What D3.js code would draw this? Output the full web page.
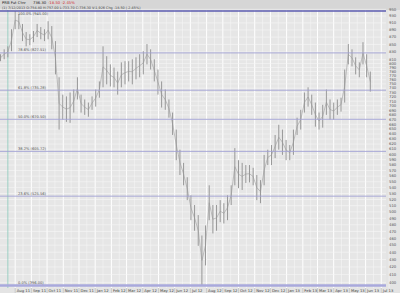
<!DOCTYPE html>
<html>
<head>
<meta charset="utf-8">
<script src="https://cdnjs.cloudflare.com/ajax/libs/d3/7.8.5/d3.min.js"></script>
<style>
body{margin:0;background:#fff;}
svg{display:block;font-family:"DejaVu Sans",sans-serif;}
</style>
</head>
<body>
<svg id="chart" width="400" height="293"></svg>
<script>
// header values
var symbolName = "PRB Fut Ctnr";
var lastClose = "736.30";
var lastChange = "-18.50  -2.45%";
var ohlcLine = "(1) 7/12/2013 O:754.80 H:757.00 L:733.70 C:736.30 V:1,926 Chg -18.50 (-2.45%)";

// weekly ranges, first week starting 2011-07-04
var firstWeek = "2011-07-04";
var weeklyHigh = [824,837,845,892,945,936,907,884,878,887,907,898,892,915,901,859,766,725,721,730,
  737,766,725,714,707,721,737,756,845,819,798,790,780,803,806,806,811,816,824,832,
  851,837,811,785,756,737,714,685,649,609,584,558,527,511,495,464,479,544,511,511,
  519,514,527,544,612,589,584,580,580,575,562,553,599,609,618,638,659,649,628,618,
  649,674,691,730,742,725,707,685,702,737,714,707,714,718,785,851,837,816,803,856,
  824,780];
var weeklyLow = [806,811,816,832,892,892,859,845,848,856,870,864,859,864,837,773,649,670,665,663,
  685,714,685,680,676,691,698,718,742,749,744,742,725,742,749,756,749,761,766,773,
  798,785,756,725,696,691,674,638,589,562,544,519,487,471,449,396,422,487,467,471,
  484,482,487,511,544,539,536,548,549,544,519,514,544,580,580,593,609,599,589,589,
  599,638,649,685,698,680,655,649,653,680,670,670,680,687,707,798,793,773,766,798,
  766,732];

var priceTicks = [950,930,910,890,870,850,830,810,800,790,780,770,760,750,740,730,720,710,700,
  690,680,670,660,650,640,630,620,610,600,590,580,570,560,550,540,530,520,510,500,
  490,480,470,460,450,440,430,420,410,400];
var fibLevels = [0, 0.236, 0.382, 0.5, 0.618, 0.786, 1];
var markerDates = ["2011-07-18"];

var svg = d3.select("#chart");
var W = 400, H = 293;
var plotL = 0, plotR = 386, plotT = 10, plotB = 288;

var parse = d3.timeParse("%Y-%m-%d");
var x = d3.scaleTime()
    .domain([new Date(2011, 6, 3), new Date(2013, 6, 10)])
    .range([plotL, plotR]);

var lo = d3.min(weeklyLow), hi = d3.max(weeklyHigh);
var y = d3.scaleLog().domain([lo, hi]).range([285.5, 11]);

// background
svg.append("rect").attr("x", 0).attr("y", 0).attr("width", W).attr("height", H).attr("fill", "#e4e4e4");
svg.append("rect").attr("x", 0).attr("y", 0).attr("width", W).attr("height", plotT).attr("fill", "#d6d6d6");
svg.append("rect").attr("x", plotL).attr("y", plotT).attr("width", plotR - plotL).attr("height", plotB - plotT).attr("fill", "#e6e6e6");

// vertical grid
var months = d3.timeMonth.range(new Date(2011, 7, 1), new Date(2013, 7, 1));
var halfMonths = months.map(function(m){ return d3.timeDay.offset(m, 15); });
svg.append("g").selectAll("line").data(halfMonths).enter().append("line")
    .attr("x1", function(d){ return x(d); }).attr("x2", function(d){ return x(d); })
    .attr("y1", plotT).attr("y2", plotB)
    .attr("stroke", "#f4f4f4").attr("stroke-width", 0.7);
svg.append("g").selectAll("line").data(months).enter().append("line")
    .attr("x1", function(d){ return x(d); }).attr("x2", function(d){ return x(d); })
    .attr("y1", plotT).attr("y2", plotB)
    .attr("stroke", "#ffffff").attr("stroke-width", 1);

// horizontal grid
svg.append("g").selectAll("line").data(priceTicks).enter().append("line")
    .attr("x1", plotL).attr("x2", plotR)
    .attr("y1", function(d){ return y(d); }).attr("y2", function(d){ return y(d); })
    .attr("stroke", "#f6f6f6").attr("stroke-width", 0.6);

// marker line
svg.append("g").selectAll("line").data(markerDates).enter().append("line")
    .attr("x1", function(d){ return x(parse(d)); }).attr("x2", function(d){ return x(parse(d)); })
    .attr("y1", plotT).attr("y2", plotB)
    .attr("stroke", "#9cd0c4").attr("stroke-width", 1);

// price bars
var weeks = weeklyHigh.map(function(h, i){
    return {date: d3.timeDay.offset(parse(firstWeek), 7 * i), high: h, low: weeklyLow[i]};
});
var mid = d3.line()
    .x(function(d){ return x(d.date); })
    .y(function(d){ return (y(d.high) + y(d.low)) / 2; });
svg.append("path").datum(weeks).attr("d", mid)
    .attr("fill", "none").attr("stroke", "#a8a8a8").attr("stroke-width", 0.7);
svg.append("g").selectAll("line").data(weeks).enter().append("line")
    .attr("x1", function(d){ return x(d.date); }).attr("x2", function(d){ return x(d.date); })
    .attr("y1", function(d){ return y(d.high); }).attr("y2", function(d){ return y(d.low); })
    .attr("stroke", "#979797").attr("stroke-width", 1);

// fibonacci retracement lines
var fib = fibLevels.map(function(f){ return {f: f, price: lo + f * (hi - lo)}; });
svg.append("g").selectAll("line").data(fib).enter().append("line")
    .attr("x1", plotL).attr("x2", plotR)
    .attr("y1", function(d){ return y(d.price); }).attr("y2", function(d){ return y(d.price); })
    .attr("stroke", function(d){ return d.f == 1 ? "#5c5cb0" : (d.f == 0 ? "#a9a9dc" : "#a0a0d4"); })
    .attr("stroke-width", function(d){ return d.f == 0 ? 2.5 : (d.f == 1 ? 1.4 : 0.9); });
svg.append("g").selectAll("text").data(fib).enter().append("text")
    .attr("x", 18)
    .attr("y", function(d){ return d.f == 1 ? y(d.price) + 4 : y(d.price) - 1.5; })
    .attr("font-size", 3.6).attr("fill", "#555")
    .text(function(d){ return d3.format(".1f")(d.f * 100) + "% (" + d3.format(".2f")(d.price) + ")"; });

// right axis labels
svg.append("g").selectAll("text").data(priceTicks).enter().append("text")
    .attr("x", 389).attr("y", function(d){ return y(d) + 1.3; })
    .attr("font-size", 3.8).attr("fill", "#555")
    .text(function(d){ return d; });

// bottom axis
var fmt = d3.timeFormat("%b %y");
svg.append("g").selectAll("line").data(months).enter().append("line")
    .attr("x1", function(d){ return x(d); }).attr("x2", function(d){ return x(d); })
    .attr("y1", plotB).attr("y2", H)
    .attr("stroke", "#bbbbbb").attr("stroke-width", 0.6);
svg.append("g").selectAll("text").data(months).enter().append("text")
    .attr("x", function(d){ return x(d) + 1.5; }).attr("y", 291.5)
    .attr("font-size", 3.8).attr("fill", "#444")
    .text(function(d){ return fmt(d); });

// header
svg.append("text").attr("x", 2).attr("y", 4.2).attr("font-size", 3.8).attr("fill", "#222").text(symbolName);
svg.append("text").attr("x", 33).attr("y", 4.2).attr("font-size", 3.8).attr("fill", "#222").text(lastClose);
svg.append("text").attr("x", 48).attr("y", 4.2).attr("font-size", 3.8).attr("fill", "#d03030").text(lastChange);
svg.append("text").attr("x", 2).attr("y", 8.8).attr("font-size", 3.4).attr("fill", "#444").text(ohlcLine);
</script>
</body>
</html>
